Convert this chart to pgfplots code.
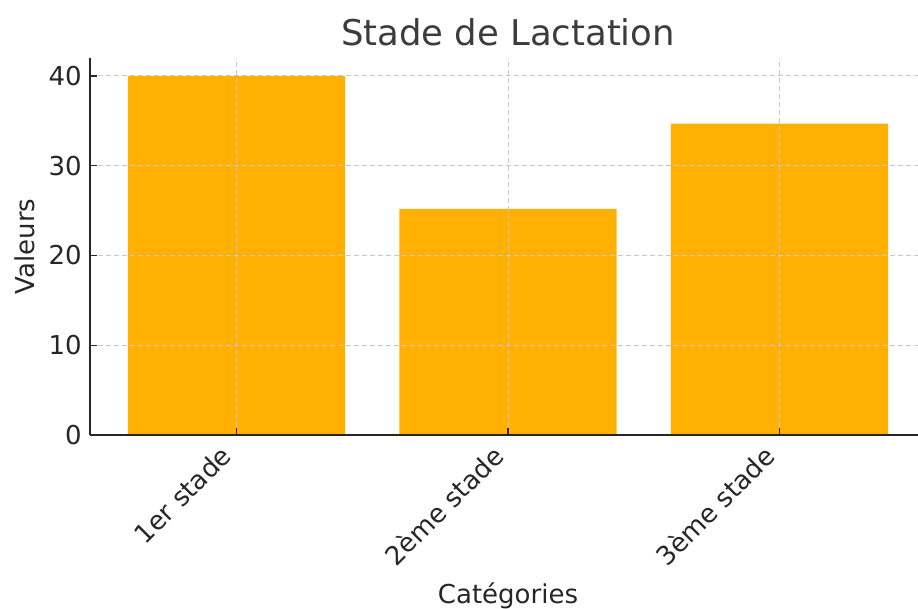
\documentclass[border=0pt]{standalone}
\usepackage{pgfplots}
\pgfplotsset{compat=1.18}
\usepackage{fontspec}
\setmainfont{DejaVu Sans}
\definecolor{barc}{HTML}{FFB000}
\definecolor{txt}{HTML}{262626}
\definecolor{gridc}{HTML}{C8C8C8}
\begin{document}
\begin{tikzpicture}
\begin{axis}[
  anchor=south west, at={(0,0)},
  scale only axis,
  width=627pt, height=282.75pt,
  xmin=-0.54, xmax=2.54,
  ymin=0, ymax=42,
  axis lines=left,
  axis line style={-, color=txt, line width=1.1pt},
  axis on top,
  ybar, bar width=0.8,
  xtick={0,1,2},
  xticklabels={1er stade,2ème stade,3ème stade},
  ytick={0,10,20,30,40},
  tick align=inside,
  major tick length=5pt,
  tick style={color=txt, line width=1pt},
  grid=major,
  grid style={dashed, color=gridc, line width=0.7pt, dash pattern=on 4pt off 2pt},
  /pgf/number format/assume math mode=true,
  tick label style={font=\fontsize{19.5}{22}\selectfont, text=txt},
  yticklabel style={inner sep=0pt, xshift=-6pt},
  xticklabel style={xshift=-13pt, yshift=-6.3pt, rotate=45, anchor=north east, inner sep=0pt},
  title={Stade de Lactation},
  title style={font=\fontsize{26.6}{30}\selectfont, text=txt!90, at={(rel axis cs:0.5,1)}, anchor=base, yshift=3.75pt},
  xlabel={Catégories},
  xlabel style={font=\fontsize{19.5}{22}\selectfont, text=txt, at={(rel axis cs:0.5,0)}, anchor=base, yshift=-126pt},
  ylabel={Valeurs},
  ylabel style={font=\fontsize{19.5}{22}\selectfont, text=txt, at={(axis description cs:-0.0778,0.5)}, anchor=center},
]
\addplot[fill=barc, draw=none] coordinates {(0,40) (1,25.2) (2,34.7)};
\end{axis}
\pgfresetboundingbox
\useasboundingbox (-67.5pt,-129.75pt) rectangle (621pt,326.25pt);
\end{tikzpicture}
\end{document}
